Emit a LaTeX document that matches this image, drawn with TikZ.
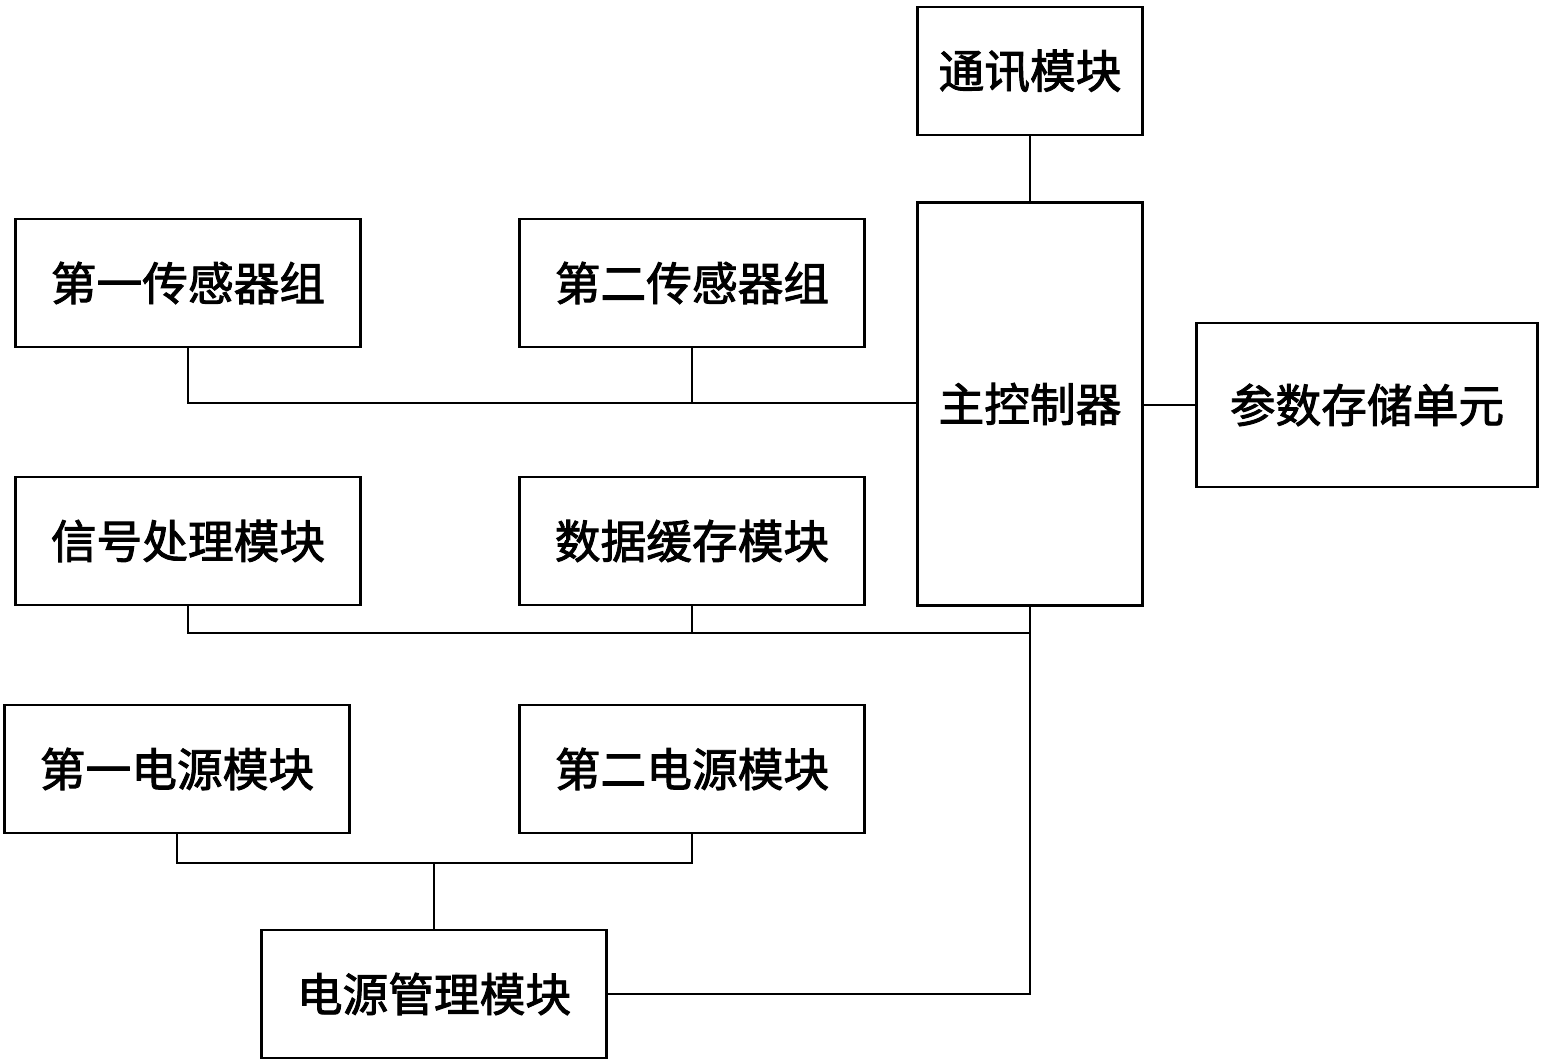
\documentclass[tikz,border=0pt]{standalone}
\usepackage{fontspec}
\newfontfamily\cjk[FakeBold=2]{Noto Sans CJK SC}
\usetikzlibrary{positioning}
\tikzset{
    blk/.style={draw,thick,minimum width=3.44cm,minimum height=1.28cm,font=\cjk\fontsize{13pt}{15pt}\selectfont,inner sep=0pt},
    wire/.style={thick}
}
\begin{document}
\begin{tikzpicture}[x=0.01cm,y=-0.01cm]
\useasboundingbox (0,0) rectangle (1547,1064);
% blocks
\node[blk,minimum width=2.25cm] (comm) at (1030,71) {通讯模块};
\node[blk,minimum width=2.25cm,minimum height=4.02cm] (mcu) at (1030,404) {主控制器};
\node[blk,minimum width=3.41cm,minimum height=1.64cm] (param) at (1367,405) {参数存储单元};
\node[blk] (sensA) at (188,283) {第一传感器组};
\node[blk] (sensB) at (692,283) {第二传感器组};
\node[blk] (sig) at (188,541) {信号处理模块};
\node[blk] (buf) at (692,541) {数据缓存模块};
\node[blk] (powA) at (177,769) {第一电源模块};
\node[blk] (powB) at (692,769) {第二电源模块};
\node[blk,minimum width=3.45cm] (pmgr) at (434,994) {电源管理模块};
% junctions
\coordinate (sbus) at (692,403);
\coordinate (dbus) at (692,633);
\coordinate (dmcu) at (1030,633);
\coordinate (pbus) at (434,863);
% connectors
\draw[wire] (comm) -- (mcu);
\draw[wire] (mcu.east |- param) -- (param);
\draw[wire] (sensA.south) |- (sbus) -- (mcu.west |- sbus);
\draw[wire] (sensB) -- (sbus);
\draw[wire] (sig.south) |- (dbus) -- (dmcu);
\draw[wire] (buf) -- (dbus);
\draw[wire] (mcu) -- (dmcu) |- (pmgr.east);
\draw[wire] (powA.south) |- (pbus) -| (powB.south);
\draw[wire] (pbus) -- (pmgr);
\end{tikzpicture}
\end{document}
